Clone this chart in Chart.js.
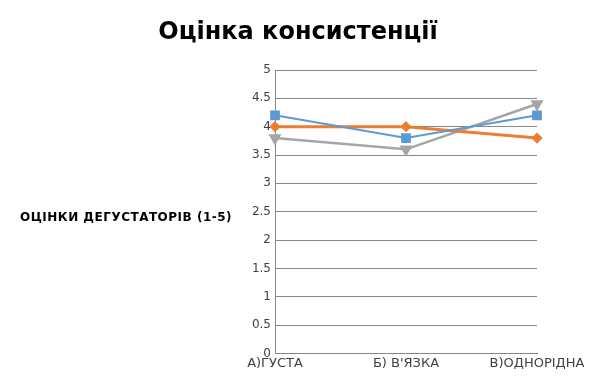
<!DOCTYPE html>
<html><head><meta charset="utf-8">
<script src="https://cdn.jsdelivr.net/npm/chart.js@4/dist/chart.umd.min.js"></script>
<style>html,body{margin:0;padding:0;background:#fff}#wrap{width:595px;height:380px}</style>
</head><body><div id="wrap"><canvas id="c" width="595" height="380"></canvas></div>
<script>
const categories = ["А)ГУСТА", "Б) В'ЯЗКА", "В)ОДНОРІДНА"];
const series1 = [4.2, 3.8, 4.2];
const series2 = [4.0, 4.0, 3.8];
const series3 = [3.8, 3.6, 4.4];
const yTicks = [0, 0.5, 1, 1.5, 2, 2.5, 3, 3.5, 4, 4.5, 5];
const titleText = "Оцінка консистенції";
const yTitleText = "ОЦІНКИ ДЕГУСТАТОРІВ (1-5)";

const textPlugin = {
  id: 'texts',
  afterDraw(chart) {
    const ctx = chart.ctx;
    ctx.save();
    ctx.fillStyle = '#000';
    ctx.textBaseline = 'middle';
    ctx.textAlign = 'center';
    ctx.font = 'bold 24px "DejaVu Sans"';
    ctx.fillText(titleText, 298, 33);
    ctx.textAlign = 'left';
    ctx.font = 'bold 12px "DejaVu Sans"';
    if ('letterSpacing' in ctx) ctx.letterSpacing = '0.5px';
    ctx.fillText(yTitleText, 20, 218);
    ctx.restore();
  }
};

new Chart(document.getElementById('c'), {
  type: 'line',
  data: {
    labels: categories,
    datasets: [
      {data: series1, borderColor: '#5B9BD5', backgroundColor: '#5B9BD5', borderWidth: 2, pointStyle: 'rect', pointRadius: 5.5, pointHoverRadius: 5.5},
      {data: series2, borderColor: '#ED7D31', backgroundColor: '#ED7D31', borderWidth: 3, pointStyle: 'rectRot', pointRadius: 3.5, pointHoverRadius: 3.5},
      {data: series3, borderColor: '#A5A5A5', backgroundColor: '#A5A5A5', borderWidth: 2.5, pointStyle: 'triangle', rotation: 180, pointRadius: 5, pointHoverRadius: 5}
    ]
  },
  options: {
    responsive: false,
    animation: false,
    layout: {padding: {left: 240, right: 58, top: 70, bottom: 7}},
    plugins: {
      legend: {display: false},
      tooltip: {enabled: false},
      title: {display: false}
    },
    scales: {
      x: {
        offset: false,
        grid: {display: false, drawTicks: false},
        border: {color: '#868686', width: 1},
        ticks: {color: '#404040', font: {family: '"DejaVu Sans"', size: 13}, padding: 2, maxRotation: 0, autoSkip: false}
      },
      y: {
        min: 0, max: 5,
        afterBuildTicks(scale) { scale.ticks = yTicks.map(v => ({value: v})); },
        afterFit(scale) { scale.width = 35; },
        grid: {color: '#868686', drawTicks: false},
        border: {color: '#868686', width: 1},
        ticks: {color: '#404040', font: {family: '"DejaVu Sans"', size: 12}, padding: 4, callback: v => String(v)}
      }
    }
  },
  plugins: [textPlugin]
});
</script></body></html>
